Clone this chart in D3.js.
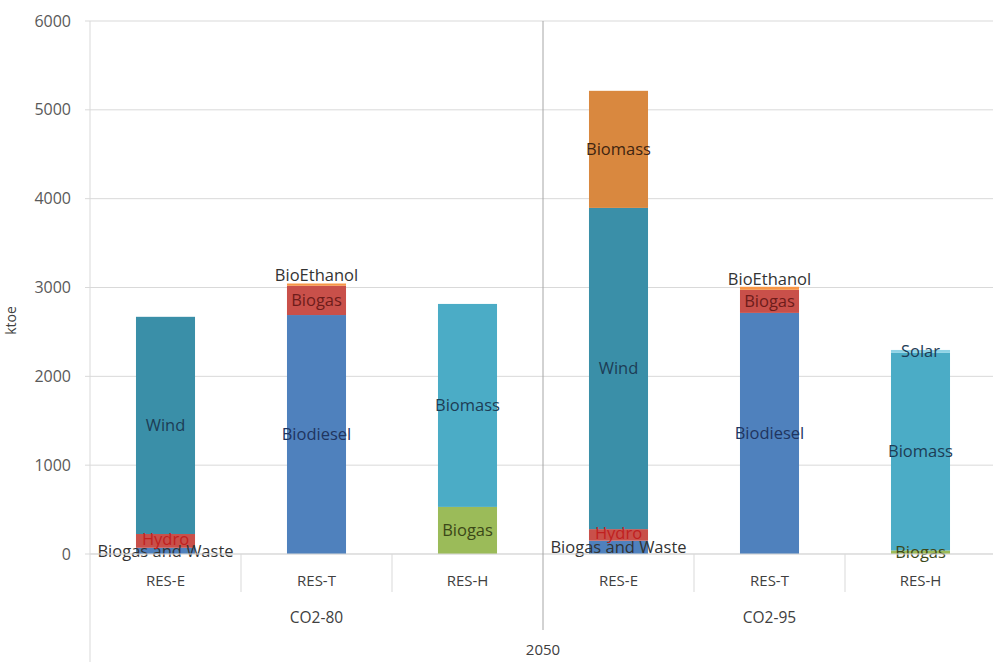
<!DOCTYPE html>
<html><head><meta charset="utf-8">
<script src="https://cdn.jsdelivr.net/npm/d3@7"></script>
<style>body{margin:0;background:#fff}svg{display:block}text{font-family:"Open Sans",sans-serif}</style>
</head><body><svg id="c" width="993" height="662"></svg>
<script>
// ---- data ----
const groups = ["CO2-80", "CO2-95"];
const categories = ["RES-E", "RES-T", "RES-H"];
const outerLabel = "2050";
const yTicks = [0, 1000, 2000, 3000, 4000, 5000, 6000];
const yLabel = "ktoe";
// series (stack order bottom -> top), values per bar: [80 E, 80 T, 80 H, 95 E, 95 T, 95 H]
const seriesNames  = ["Biogas and Waste", "Hydro", "Wind", "Biomass", "Biodiesel", "Biogas", "BioEthanol", "Biogas", "Biomass", "Solar"];
const biogasWaste  = [70, 0, 0, 150, 0, 0];
const hydro        = [155, 0, 0, 130, 0, 0];
const wind         = [2445, 0, 0, 3616, 0, 0];
const biomassE     = [0, 0, 0, 1318, 0, 0];
const biodiesel    = [0, 2690, 0, 0, 2714, 0];
const biogasT      = [0, 330, 0, 0, 260, 0];
const bioethanol   = [0, 25, 0, 0, 34, 0];
const biogasH      = [0, 0, 530, 0, 0, 40];
const biomassH     = [0, 0, 2285, 0, 0, 2224];
const solar        = [0, 0, 0, 0, 0, 33];
const seriesValues = [biogasWaste, hydro, wind, biomassE, biodiesel, biogasT, bioethanol, biogasH, biomassH, solar];

// ---- styles ----
const fills  = ["#4f81bd", "#c9504a", "#3a8fa8", "#d9883f", "#4f81bd", "#c9504a", "#f79646", "#9bbb59", "#4bacc6", "#8fd3e6"];
const inks   = ["#333", "#c02020", "#1d3c55", "#3f2410", "#1f3560", "#6e1c1a", "#333", "#3b4818", "#1d3c55", "#1d3c55"];
const labelDy = [0, -2, 0, 0, 0, 0, -9, 0, 0, 0];

const svg = d3.select("#c");
const W = 993, H = 662;
const mLeft = 90, mRight = 996, mTop = 21, mBottom = 554;

const bars = [];
groups.forEach(g => categories.forEach(c => bars.push(g + "|" + c)));

const x = d3.scaleBand().domain(bars).range([mLeft, mRight]).paddingInner(0.609).paddingOuter(0.3045);
const y = d3.scaleLinear().domain([0, 6000]).range([mBottom, mTop]);

// gridlines
svg.append("g").selectAll("line").data(yTicks).join("line")
  .attr("x1", mLeft - 5).attr("x2", W).attr("y1", d => y(d)).attr("y2", d => y(d))
  .attr("stroke", "#d9d9d9").attr("stroke-width", 1);

// y axis line
svg.append("line").attr("x1", mLeft).attr("x2", mLeft).attr("y1", mTop).attr("y2", H)
  .attr("stroke", "#d9d9d9");

// y tick labels via axis
const yAxis = svg.append("g").attr("transform", `translate(${mLeft - 13},0)`)
  .call(d3.axisLeft(y).tickValues(yTicks).tickSize(0).tickPadding(6).tickFormat(d3.format("d")));
yAxis.select(".domain").remove();
yAxis.selectAll("text").attr("font-size", 16).attr("fill", "#595959").style("font-family", "'Open Sans',sans-serif");

svg.append("text").attr("transform", `translate(16,${(mTop + mBottom) / 2 + 33}) rotate(-90)`)
  .attr("text-anchor", "middle").attr("font-size", 14).attr("fill", "#404040").text(yLabel);

// stacks
const stack = d3.stack().keys(d3.range(seriesNames.length)).value((row, k) => row[k]);
const rows = bars.map((b, i) => seriesValues.map(s => s[i]));
const stacked = stack(rows);

const gBars = svg.append("g");
stacked.forEach((layer, si) => {
  layer.forEach((seg, bi) => {
    if (seg[1] - seg[0] <= 0) return;
    gBars.append("rect")
      .attr("x", x(bars[bi])).attr("width", x.bandwidth())
      .attr("y", y(seg[1])).attr("height", y(seg[0]) - y(seg[1]))
      .attr("fill", fills[si]);
  });
});
// labels
stacked.forEach((layer, si) => {
  layer.forEach((seg, bi) => {
    if (seg[1] - seg[0] <= 0) return;
    svg.append("text")
      .attr("x", x(bars[bi]) + x.bandwidth() / 2)
      .attr("y", (y(seg[0]) + y(seg[1])) / 2 + labelDy[si])
      .attr("dy", "0.35em").attr("text-anchor", "middle")
      .attr("font-size", 16.5).attr("fill", inks[si]).text(seriesNames[si]);
  });
});

// category axis baseline
svg.append("line").attr("x1", mLeft).attr("x2", W).attr("y1", mBottom).attr("y2", mBottom).attr("stroke", "#d9d9d9");

// category separators
const step = x.step();
bars.forEach((b, i) => {
  if (i === 0) return;
  const sx = mLeft + step * i;
  const isGroup = i % categories.length === 0;
  svg.append("line").attr("x1", sx).attr("x2", sx)
    .attr("y1", isGroup ? mTop : mBottom).attr("y2", isGroup ? 630 : 592)
    .attr("stroke", isGroup ? "#a6a6a6" : "#d9d9d9");
});

// category labels
svg.append("g").selectAll("text").data(bars).join("text")
  .attr("x", d => x(d) + x.bandwidth() / 2).attr("y", 581).attr("dy", "0.35em")
  .attr("text-anchor", "middle").attr("font-size", 15).attr("fill", "#404040")
  .text(d => d.split("|")[1]);

// group labels
svg.append("g").selectAll("text").data(groups).join("text")
  .attr("x", (d, i) => mLeft + step * categories.length * (i + 0.5)).attr("y", 618).attr("dy", "0.35em")
  .attr("text-anchor", "middle").attr("font-size", 15.5).attr("fill", "#404040").text(d => d);

svg.append("text").attr("x", mLeft + step * categories.length).attr("y", 650).attr("dy", "0.35em")
  .attr("text-anchor", "middle").attr("font-size", 15).attr("fill", "#404040").text(outerLabel);
</script></body></html>
